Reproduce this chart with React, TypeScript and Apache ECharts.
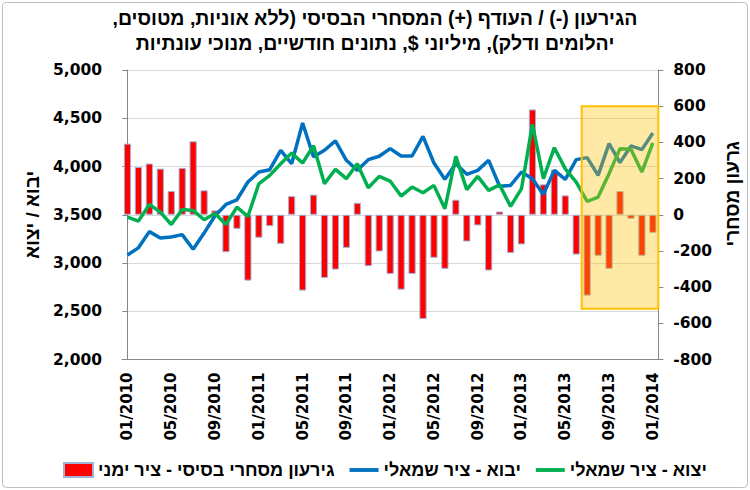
import React, { useEffect, useRef } from 'react';
import * as echarts from 'echarts';

// Categories: monthly, 01/2010 .. 01/2014
const months: string[] = [];
for (let y = 2010; y <= 2014; y++) {
  for (let m = 1; m <= 12; m++) {
    if (y === 2014 && m > 1) break;
    months.push(`${String(m).padStart(2, '0')}/${y}`);
  }
}

// Exports (left axis), $ millions
const exportsData = [
  3475, 3434, 3607, 3527, 3399, 3555, 3545, 3448, 3512, 3400, 3579, 3482,
  3821, 3908, 4029, 4139, 4036, 4215, 3822, 3971, 3874, 4029, 3780, 3898,
  3849, 3694, 3787, 3728, 3804, 3562, 4105, 3760, 3898, 3752, 3810, 3587,
  3770, 4438, 3874, 4195, 3975, 3839, 3638, 3683, 3926, 4185, 4178, 3943,
  4244,
];

// Imports (left axis), $ millions
const importsData = [
  3083, 3157, 3325, 3260, 3270, 3294, 3142, 3310, 3490, 3607, 3655, 3839,
  3943, 3967, 4167, 4029, 4451, 4100, 4168, 4265, 4064, 3960, 4071, 4106,
  4185, 4109, 4109, 4313, 4036, 3867, 4029, 3919, 3960, 4064, 3795, 3804,
  3943, 3874, 3711, 3960, 3867, 4071, 4092, 3908, 4237, 4040, 4213, 4175,
  4348,
];

// Basic trade balance (right axis)
const balanceData = [
  393, 264, 283, 255, 131, 259, 406, 135, 24, -207, -78, -364,
  -127, -63, -161, 103, -419, 111, -349, -303, -183, 66, -284, -203,
  -327, -414, -327, -576, -238, -299, 83, -148, -59, -308, 18, -211,
  -164, 582, 168, 249, 107, -220, -447, -227, -299, 131, -22, -227,
  -100,
];

const leftTicks = { min: 2000, max: 5000, interval: 500 };
const rightTicks = { min: -800, max: 800, interval: 200 };

// Highlighted period (annotation box)
const highlightMonths = ['07/2013', '01/2014'];
const highlightValues = [600, -520];

const titleText =
  'הגירעון (-) / העודף (+) המסחרי הבסיסי (ללא אוניות, מטוסים,\u200F\n' +
  'יהלומים ודלק), מיליוני $, נתונים חודשיים, מנוכי עונתיות';
const leftAxisName = 'יבוא / יצוא';
const rightAxisName = 'גרעון מסחרי';
const barName = 'גירעון מסחרי בסיסי - ציר ימני';
const importsName = 'יבוא - ציר שמאלי';
const exportsName = 'יצוא - ציר שמאלי';

const HEB = "'Liberation Sans', Arial, 'DejaVu Sans', sans-serif";
const NUM = "'DejaVu Sans', sans-serif";

export default function App() {
  const ref = useRef<HTMLDivElement>(null);

  useEffect(() => {
    if (!ref.current) return;
    const chart = echarts.init(ref.current, undefined, { renderer: 'svg' });
    const hStart = months.indexOf(highlightMonths[0]) - 0.5;
    const hEnd = months.indexOf(highlightMonths[1]) + 0.5;

    chart.setOption({
      animation: false,
      backgroundColor: '#ffffff',
      title: {
        text: titleText,
        left: 'center',
        top: 0,
        textStyle: {
          fontFamily: HEB,
          fontWeight: 'bold',
          fontSize: 19.5,
          lineHeight: 25,
          color: '#000',
        },
      },
      graphic: [
        {
          type: 'rect',
          silent: true,
          z: -10,
          shape: { x: 2.5, y: 2.5, width: 745, height: 485, r: 4 },
          style: { fill: 'none', stroke: '#BFBFBF', lineWidth: 1 },
        },
      ],
      legend: {
        left: 58,
        top: 456,
        itemWidth: 29,
        itemHeight: 14,
        itemGap: 15,
        textStyle: { fontFamily: HEB, fontWeight: 'bold', fontSize: 18, color: '#000' },
        data: [
          { name: barName, icon: 'rect' },
          { name: importsName, icon: 'path://M0 0H30V4H0Z' },
          { name: exportsName, icon: 'path://M0 0H30V4H0Z' },
        ],
      },
      grid: { left: 122, right: 82, top: 70, bottom: 130.5, containLabel: false },
      xAxis: [
        {
          type: 'category',
          data: months,
          boundaryGap: true,
          axisLine: { onZero: false, lineStyle: { color: '#868686', width: 1 } },
          axisTick: { interval: 3, alignWithLabel: false, length: 6, lineStyle: { color: '#868686' } },
          axisLabel: {
            interval: 3,
            rotate: 90,
            margin: 13,
            fontFamily: NUM,
            fontWeight: 'bold',
            fontSize: 15,
            color: '#000',
          },
          splitLine: { show: false },
        },
        {
          type: 'value',
          min: -0.5,
          max: months.length - 0.5,
          show: false,
        },
      ],
      yAxis: [
        {
          type: 'value',
          min: leftTicks.min,
          max: leftTicks.max,
          interval: leftTicks.interval,
          name: leftAxisName,
          nameLocation: 'middle',
          nameGap: 78,
          nameTextStyle: { fontFamily: HEB, fontWeight: 'bold', fontSize: 19, color: '#000' },
          axisLine: { show: true, lineStyle: { color: '#868686' } },
          axisTick: { show: true, length: 5, lineStyle: { color: '#868686' } },
          axisLabel: {
            margin: 20,
            fontFamily: NUM,
            fontWeight: 'bold',
            fontSize: 15.5,
            color: '#000',
            formatter: (v: number) => v.toLocaleString('en-US'),
          },
          splitLine: { show: true, lineStyle: { color: '#D9D9D9', width: 1 } },
        },
        {
          type: 'value',
          position: 'right',
          min: rightTicks.min,
          max: rightTicks.max,
          interval: rightTicks.interval,
          name: rightAxisName,
          nameLocation: 'middle',
          nameGap: 58,
          nameTextStyle: {
            fontFamily: HEB,
            fontWeight: 'bold',
            fontSize: 19,
            color: '#000',
            padding: [0, 0, 0, 42],
          },
          axisLine: { show: true, lineStyle: { color: '#868686' } },
          axisTick: { show: true, length: 5, lineStyle: { color: '#868686' } },
          axisLabel: {
            margin: 15,
            fontFamily: NUM,
            fontWeight: 'bold',
            fontSize: 15.5,
            color: '#000',
          },
          splitLine: { show: false },
        },
      ],
      series: [
        {
          name: barName,
          type: 'bar',
          xAxisIndex: 0,
          yAxisIndex: 1,
          data: balanceData,
          barWidth: '66%',
          z: 2,
          itemStyle: { color: '#FF0000', borderColor: '#9DB3D8', borderWidth: 1 },
        },
        {
          name: importsName,
          type: 'line',
          xAxisIndex: 0,
          yAxisIndex: 0,
          data: importsData,
          showSymbol: false,
          symbol: 'none',
          z: 3,
          lineStyle: { color: '#0070C0', width: 3.5 },
          itemStyle: { color: '#0070C0' },
        },
        {
          name: exportsName,
          type: 'line',
          xAxisIndex: 0,
          yAxisIndex: 0,
          data: exportsData,
          showSymbol: false,
          symbol: 'none',
          z: 4,
          lineStyle: { color: '#00B050', width: 3.5 },
          itemStyle: { color: '#00B050' },
        },
        {
          name: 'highlight',
          type: 'custom',
          xAxisIndex: 1,
          yAxisIndex: 1,
          silent: true,
          z: 10,
          data: [[hStart, highlightValues[0], hEnd, highlightValues[1]]],
          encode: { x: [0, 2], y: [1, 3] },
          renderItem: (params: any, api: any) => {
            const p1 = api.coord([api.value(0), api.value(1)]);
            const p2 = api.coord([api.value(2), api.value(3)]);
            return {
              type: 'rect',
              shape: { x: p1[0], y: p1[1], width: p2[0] - p1[0], height: p2[1] - p1[1] },
              style: { fill: 'rgba(255,192,0,0.35)', stroke: '#FFC000', lineWidth: 2 },
            };
          },
        },
      ],
    });

    return () => chart.dispose();
  }, []);

  return (
    <div
      ref={ref}
      style={{ position: 'absolute', left: 0, top: 0, width: 750, height: 490 }}
    />
  );
}
